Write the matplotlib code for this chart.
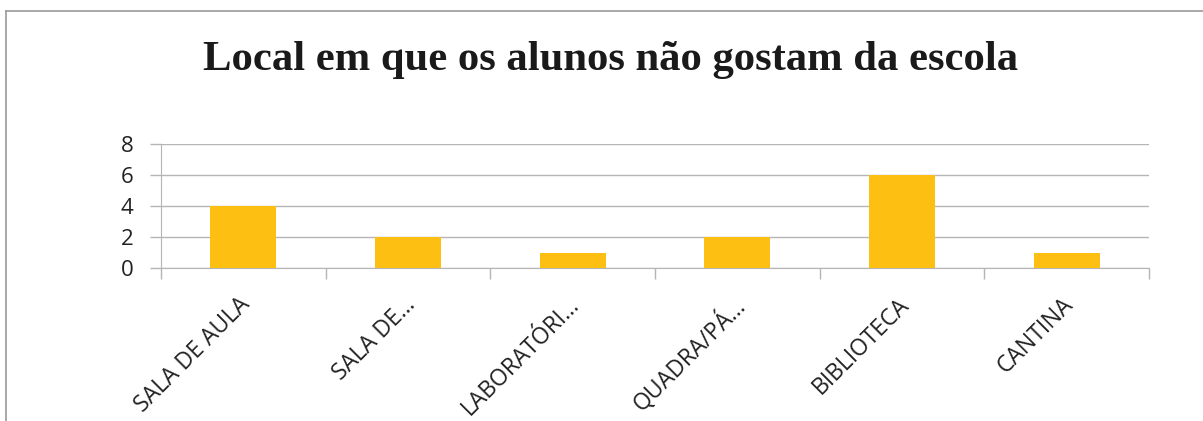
import matplotlib.pyplot as plt
from matplotlib.lines import Line2D
import numpy as np

categories = ['SALA DE AULA', 'SALA DE…', 'LABORATÓRI…', 'QUADRA/PÁ…', 'BIBLIOTECA', 'CANTINA']
values = [4, 2, 1, 2, 6, 1]
yticks = [0, 2, 4, 6, 8]
title = 'Local em que os alunos não gostam da escola'

W, H = 1203, 421
fig = plt.figure(figsize=(W / 100, H / 100), dpi=100)
ax = fig.add_axes([161 / W, 1 - 268 / H, 988 / W, 124 / H])

grey = '#b5b5b5'
x = np.arange(len(categories))
ax.bar(x, values, width=0.4, color='#FDC012', zorder=3)
ax.set_xlim(-0.5, len(categories) - 0.5)
ax.set_ylim(0, 8)
ax.set_yticks(yticks)
ax.yaxis.grid(True, color=grey, linewidth=1)
ax.set_axisbelow(True)

# category boundary ticks
ax.set_xticks(np.arange(len(categories) + 1) - 0.5)
ax.set_xticklabels([])
ax.tick_params(axis='x', length=8, color=grey, width=1)
ax.tick_params(axis='y', length=8, color=grey, width=1, labelsize=16, pad=12)
for lab in ax.get_yticklabels():
    lab.set_family('Open Sans')
    lab.set_color('#222222')

for s in ['top', 'right']:
    ax.spines[s].set_visible(False)
for s in ['left', 'bottom']:
    ax.spines[s].set_color(grey)

for i, c in enumerate(categories):
    ax.text(i - 0.03, -1.6, c, rotation=45, ha='right', va='top',
            rotation_mode='anchor', fontsize=16.5, family='Open Sans',
            color='#222222')

fig.text(611 / W, 1 - 60 / H, title, ha='center', va='center',
         fontsize=30.7, fontweight='bold', family='Liberation Serif', color='#1a1a1a')

# outer chart frame (cropped at right and bottom)
fig.add_artist(Line2D([6 / W, 1], [1 - 11 / H, 1 - 11 / H], transform=fig.transFigure,
                      color='#9a9a9a', linewidth=1.2))
fig.add_artist(Line2D([6 / W, 6 / W], [0, 1 - 11 / H], transform=fig.transFigure,
                      color='#9a9a9a', linewidth=1.2))

fig.savefig('out.png', dpi=100)
